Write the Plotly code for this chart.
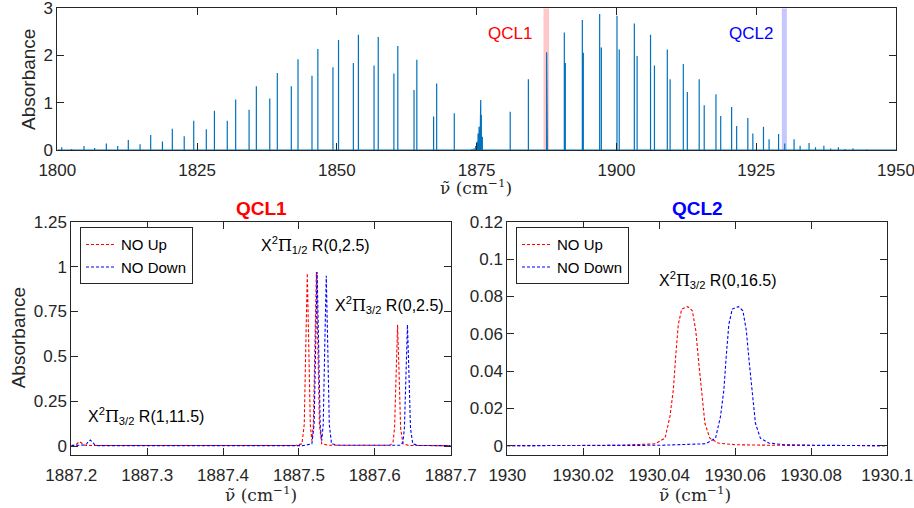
import plotly.graph_objects as go

# ---------------- data ----------------
# top panel: stick spectrum (line positions in cm^-1 and absorbance)
top_nu = [1800.79, 1802.57, 1804.78, 1806.68, 1808.77, 1810.80, 1812.70, 1814.80, 1816.70, 1818.80,
          1820.57, 1822.70, 1824.40, 1826.65, 1828.10, 1830.40, 1831.90, 1834.30, 1835.60, 1838.00,
          1839.35, 1841.85, 1843.05, 1845.55, 1846.60, 1849.30, 1850.30, 1852.95, 1853.85, 1856.65,
          1857.40, 1860.20, 1860.90, 1863.80, 1864.30, 1867.30, 1867.85, 1871.00,
          1873.80, 1874.17, 1874.53, 1874.83, 1875.07, 1875.25, 1875.43, 1875.60, 1875.73, 1875.84, 1876.02,
          1881.00, 1884.25, 1887.52, 1887.64, 1890.68, 1890.86, 1893.90, 1894.08, 1897.00, 1897.30,
          1900.10, 1900.50, 1903.20, 1903.70, 1906.10, 1906.80, 1909.10, 1909.60, 1911.96, 1912.68,
          1914.80, 1915.70, 1917.80, 1918.65, 1920.60, 1921.50, 1923.50, 1924.40, 1926.30, 1927.30,
          1929.00, 1930.10, 1931.77, 1932.85, 1934.45, 1935.60, 1937.10, 1938.30, 1939.70, 1940.90,
          1942.30, 1943.60, 1944.80, 1947.30]
top_abs = [0.057, 0.02, 0.085, 0.042, 0.14, 0.085, 0.21, 0.12, 0.32, 0.18,
           0.45, 0.29, 0.62, 0.44, 0.83, 0.62, 1.07, 0.85, 1.35, 1.09,
           1.63, 1.35, 1.92, 1.57, 2.14, 1.75, 2.33, 1.84, 2.44, 1.79,
           2.39, 1.62, 2.20, 1.27, 1.91, 0.71, 1.41, 0.78,
           0.01, 0.02, 0.035, 0.085, 0.18, 0.35, 0.49, 0.74, 1.06, 0.74, 0.28,
           0.81, 1.50, 2.07, 1.40, 2.49, 1.84, 2.75, 2.06, 2.88, 2.17,
           2.84, 2.13, 2.68, 1.99, 2.44, 1.79, 2.13, 1.50, 1.82, 1.23,
           1.50, 0.95, 1.18, 0.72, 0.91, 0.51, 0.68, 0.35, 0.49, 0.23,
           0.34, 0.14, 0.23, 0.09, 0.15, 0.057, 0.09, 0.03, 0.06, 0.02,
           0.035, 0.01, 0.015, 0.01]
top_xlim = [1800, 1950]
top_ylim = [0, 3]
top_xticks = [1800, 1825, 1850, 1875, 1900, 1925, 1950]
top_yticks = [0, 1, 2, 3]
qcl1_band = [1886.95, 1887.95]
qcl2_band = [1929.58, 1930.48]

# bottom-left (QCL1)
q1_up_x = [1887.200, 1887.206, 1887.209, 1887.211, 1887.213, 1887.216, 1887.220, 1887.495,
           1887.504, 1887.507, 1887.509, 1887.511, 1887.513, 1887.515, 1887.517, 1887.519,
           1887.521, 1887.523, 1887.525, 1887.527, 1887.530, 1887.540, 1887.620, 1887.624,
           1887.626, 1887.628, 1887.630, 1887.632, 1887.634, 1887.637, 1887.645, 1887.700]
q1_up_y = [0.004, 0.007, 0.018, 0.024, 0.018, 0.007, 0.003, 0.003,
           0.012, 0.12, 0.55, 0.963, 0.55, 0.12, 0.03, 0.12,
           0.55, 0.97, 0.55, 0.12, 0.012, 0.004, 0.004, 0.02,
           0.10, 0.40, 0.676, 0.40, 0.10, 0.012, 0.003, 0.002]
q1_dn_x = [1887.200, 1887.219, 1887.222, 1887.225, 1887.228, 1887.231, 1887.236, 1887.505,
           1887.517, 1887.520, 1887.522, 1887.524, 1887.526, 1887.528, 1887.530, 1887.532,
           1887.534, 1887.536, 1887.538, 1887.540, 1887.543, 1887.553, 1887.633, 1887.637,
           1887.639, 1887.641, 1887.643, 1887.645, 1887.647, 1887.650, 1887.658, 1887.700]
q1_dn_y = [0.002, 0.006, 0.022, 0.033, 0.022, 0.006, 0.002, 0.002,
           0.012, 0.12, 0.55, 0.97, 0.55, 0.12, 0.03, 0.12,
           0.55, 0.949, 0.55, 0.12, 0.012, 0.004, 0.004, 0.02,
           0.10, 0.40, 0.676, 0.40, 0.10, 0.012, 0.003, 0.002]
q1_xlim = [1887.2, 1887.7]
q1_ylim = [-0.05, 1.25]
q1_xticks = [1887.2, 1887.3, 1887.4, 1887.5, 1887.6, 1887.7]
q1_yticks = [0, 0.25, 0.5, 0.75, 1, 1.25]
q1_ytext = ["0", "0.25", "0.5", "0.75", "1", "1.25"]

# bottom-right (QCL2)
q2_up_x = [1930.000, 1930.030, 1930.0389, 1930.0415, 1930.0428, 1930.0437, 1930.0443, 1930.0450,
           1930.0459, 1930.0475, 1930.0487, 1930.0496, 1930.0504, 1930.0512, 1930.0520, 1930.0533,
           1930.0555, 1930.0600, 1930.0700, 1930.1000]
q2_up_y = [0.0, 0.0002, 0.0010, 0.0040, 0.0156, 0.0300, 0.0475, 0.0650,
           0.0732, 0.0745, 0.0723, 0.0617, 0.0440, 0.0260, 0.0120, 0.0040,
           0.0014, 0.0005, 0.0002, 0.0]
q2_dn_x = [1930.000, 1930.040, 1930.0522, 1930.0548, 1930.0561, 1930.0570, 1930.0576, 1930.0583,
           1930.0592, 1930.0608, 1930.0620, 1930.0629, 1930.0637, 1930.0645, 1930.0653, 1930.0666,
           1930.0688, 1930.0730, 1930.0800, 1930.1000]
q2_dn_y = [0.0, 0.0002, 0.0010, 0.0040, 0.0156, 0.0300, 0.0475, 0.0650,
           0.0732, 0.0745, 0.0723, 0.0617, 0.0440, 0.0260, 0.0120, 0.0040,
           0.0014, 0.0005, 0.0002, 0.0]
q2_xlim = [1930.0, 1930.1]
q2_ylim = [-0.005, 0.12]
q2_xticks = [1930.0, 1930.02, 1930.04, 1930.06, 1930.08, 1930.1]
q2_xtext = ["1930", "1930.02", "1930.04", "1930.06", "1930.08", "1930.1"]
q2_yticks = [0, 0.02, 0.04, 0.06, 0.08, 0.1, 0.12]
q2_ytext = ["0", "0.02", "0.04", "0.06", "0.08", "0.1", "0.12"]

# ---------------- figure ----------------
W, H = 914, 508
def px(x):
    return x / W
def py(y):
    return 1 - y / H

FONT = "Liberation Sans, Arial, Helvetica, sans-serif"
SERIF = "DejaVu Serif, Liberation Serif, serif"
AX = "#262626"
RED = "#FF0000"
BLUE = "#0000FF"
STICK = "#0072BD"

# build continuous stick spectrum through the top data
sx, sy = [top_xlim[0]], [0]
for n, a in zip(top_nu, top_abs):
    sx += [n, n, n]
    sy += [0, a, 0]
sx.append(top_xlim[1]); sy.append(0)

fig = go.Figure()
fig.add_trace(go.Scatter(x=sx, y=sy, mode="lines", line=dict(color=STICK, width=1.2),
                         showlegend=False, xaxis="x", yaxis="y", hoverinfo="skip"))

dash = "3px,2px"
fig.add_trace(go.Scatter(x=q1_up_x, y=q1_up_y, mode="lines", name="NO Up",
                         line=dict(color=RED, width=1.1, dash=dash), xaxis="x2", yaxis="y2", legend="legend"))
fig.add_trace(go.Scatter(x=q1_dn_x, y=q1_dn_y, mode="lines", name="NO Down",
                         line=dict(color=BLUE, width=1.1, dash=dash), xaxis="x2", yaxis="y2", legend="legend"))
fig.add_trace(go.Scatter(x=q2_up_x, y=q2_up_y, mode="lines", name="NO Up",
                         line=dict(color=RED, width=1.1, dash=dash), xaxis="x3", yaxis="y3", legend="legend2"))
fig.add_trace(go.Scatter(x=q2_dn_x, y=q2_dn_y, mode="lines", name="NO Down",
                         line=dict(color=BLUE, width=1.1, dash=dash), xaxis="x3", yaxis="y3", legend="legend2"))

axis_common = dict(showline=True, linecolor=AX, linewidth=1, mirror="ticks", ticks="inside",
                   ticklen=7, tickcolor=AX, tickwidth=1, showgrid=False, zeroline=False,
                   tickfont=dict(family=FONT, size=17, color=AX), automargin=False,
                   ticklabeloverflow="allow")
xcommon = dict(axis_common, ticklabelstandoff=5)

fig.update_layout(
    width=W, height=H, margin=dict(l=0, r=0, t=0, b=0),
    paper_bgcolor="white", plot_bgcolor="white",
    font=dict(family=FONT, color=AX),
    xaxis=dict(domain=[px(57.3), px(896)], range=top_xlim, tickvals=top_xticks, anchor="y", **xcommon),
    yaxis=dict(domain=[py(150), py(8.3)], range=top_ylim, tickvals=top_yticks, anchor="x", **axis_common),
    xaxis2=dict(domain=[px(71.3), px(450.7)], range=q1_xlim, tickvals=q1_xticks,
                ticktext=[f"{v:.1f}" for v in q1_xticks], anchor="y2", **xcommon),
    yaxis2=dict(domain=[py(455), py(221.7)], range=q1_ylim, tickvals=q1_yticks, ticktext=q1_ytext,
                anchor="x2", **axis_common),
    xaxis3=dict(domain=[px(507.3), px(887.3)], range=q2_xlim, tickvals=q2_xticks, ticktext=q2_xtext,
                anchor="y3", **xcommon),
    yaxis3=dict(domain=[py(455), py(221.7)], range=q2_ylim, tickvals=q2_yticks, ticktext=q2_ytext,
                anchor="x3", **axis_common),
    legend=dict(x=px(80), y=py(227.3), xanchor="left", yanchor="top", bgcolor="white",
                bordercolor=AX, borderwidth=1, font=dict(family=FONT, size=15, color="black"),
                tracegroupgap=0, itemwidth=30),
    legend2=dict(x=px(516), y=py(227.3), xanchor="left", yanchor="top", bgcolor="white",
                 bordercolor=AX, borderwidth=1, font=dict(family=FONT, size=15, color="black"),
                 tracegroupgap=0, itemwidth=30),
)

# QCL bands on top panel
fig.add_shape(type="rect", xref="x", yref="y", x0=qcl1_band[0], x1=qcl1_band[1], y0=top_ylim[0], y1=top_ylim[1],
              fillcolor="rgba(255,0,0,0.22)", line=dict(width=0), layer="below")
fig.add_shape(type="rect", xref="x", yref="y", x0=qcl2_band[0], x1=qcl2_band[1], y0=top_ylim[0], y1=top_ylim[1],
              fillcolor="rgba(0,0,255,0.22)", line=dict(width=0), layer="below")

def ann(text, x, y, size=17, color="black", family=FONT, angle=0, bold=False):
    if bold:
        text = f"<b>{text}</b>"
    fig.add_annotation(text=text, x=px(x), y=py(y), xref="paper", yref="paper", showarrow=False,
                       xanchor="center", yanchor="middle", textangle=angle,
                       font=dict(size=size, color=color, family=family))

PI = "<span style=\"font-family:'DejaVu Serif'\">Π</span>"
XLAB = "ν̃ (cm<sup>−1</sup>)"

ann("QCL1", 510, 33, color=RED)
ann("QCL2", 751, 33, color=BLUE)
ann("Absorbance", 28.3, 79.7, size=19, color=AX, angle=-90)
ann(XLAB, 476, 187, size=17, color=AX, family=SERIF)

ann("QCL1", 261, 209, size=19, color=RED, bold=True)
ann("QCL2", 697, 209, size=19, color=BLUE, bold=True)
ann("Absorbance", 18.3, 338, size=19, color=AX, angle=-90)
ann(XLAB, 260.5, 494, size=17, color=AX, family=SERIF)
ann(XLAB, 695.3, 494, size=17, color=AX, family=SERIF)

ann(f"X<sup>2</sup>{PI}<sub>1/2</sub> R(0,2.5)", 315.8, 245, size=16)
ann(f"X<sup>2</sup>{PI}<sub>3/2</sub> R(0,2.5)", 389, 305, size=16)
ann(f"X<sup>2</sup>{PI}<sub>3/2</sub> R(1,11.5)", 146, 416, size=16)
ann(f"X<sup>2</sup>{PI}<sub>3/2</sub> R(0,16.5)", 718, 280, size=16)

fig.write_html("out.html", config={"displayModeBar": False},
               post_script="document.body.style.margin='0';document.body.style.overflow='hidden';")
